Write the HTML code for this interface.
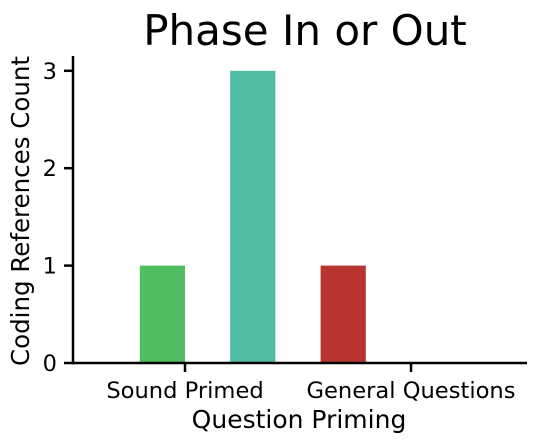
<!DOCTYPE html>
<html><head><meta charset="utf-8"><style>
html,body{margin:0;padding:0;background:#fff;}
svg{display:block;font-family:"DejaVu Sans","Liberation Sans",sans-serif;}
</style></head><body>
<svg id="chart" width="535" height="443" viewBox="0 0 535 443" xmlns="http://www.w3.org/2000/svg">
<text x="305" y="45" font-size="42" text-anchor="middle" fill="#000">Phase In or Out</text>
<g id="plot"></g>
<text transform="translate(29,211) rotate(-90)" font-size="24.5" text-anchor="middle" fill="#000">Coding References Count</text>
<text x="299" y="428" font-size="25" text-anchor="middle" fill="#000">Question Priming</text>
</svg>
<script>
const categories = ["Sound Primed", "General Questions"];
const hueNames = ["red", "green", "other", "teal"];
const redValues = [0, 1];
const greenValues = [1, 0];
const otherValues = [0, 0];
const tealValues = [3, 0];
const yTicks = [0, 1, 2, 3];

const ns = "http://www.w3.org/2000/svg";
const g = document.getElementById("plot");
const x0 = 73, x1 = 527, yBase = 363, unit = 97.4;
const catX = i => 185 + i * 226;
const y = v => yBase - v * unit;
const bw = 45.2;
const seriesList = [
  {name:"red", vals:redValues, color:"#b8342f"},
  {name:"green", vals:greenValues, color:"#50bd60"},
  {name:"other", vals:otherValues, color:"#888"},
  {name:"teal", vals:tealValues, color:"#52bba5"}
];
function mk(tag, attrs){const e=document.createElementNS(ns,tag);for(const k in attrs)e.setAttribute(k,attrs[k]);g.appendChild(e);return e;}
seriesList.forEach((s, h) => {
  s.vals.forEach((v, i) => {
    if (v <= 0) return;
    const cx = catX(i) + (h - 1.5) * bw;
    const r = mk("rect", {x: cx - bw/2, y: y(v), width: bw, height: yBase - y(v), fill: s.color});
    
    
  });
});
const ya = mk("line",{x1:x0,y1:56,x2:x0,y2:yBase+1.25,stroke:"#000","stroke-width":2.5});


const xa = mk("line",{x1:x0-1.25,y1:yBase,x2:x1,y2:yBase,stroke:"#000","stroke-width":2.5});


yTicks.forEach(t => {
  const l = mk("line",{x1:x0-9,y1:y(t),x2:x0,y2:y(t),stroke:"#000","stroke-width":2.5});
  
  
  const tx = mk("text",{x:x0-16,y:y(t)+8,"font-size":22.5,"text-anchor":"end",fill:"#000"});
  tx.textContent = t;
  
  
});
categories.forEach((c, i) => {
  const l = mk("line",{x1:catX(i),y1:yBase,x2:catX(i),y2:yBase+9,stroke:"#000","stroke-width":2.5});
  
  
  const tx = mk("text",{x:catX(i),y:yBase+35,"font-size":22.6,"text-anchor":"middle",fill:"#000"});
  tx.textContent = c;
  
  
});
</script>
</body></html>
